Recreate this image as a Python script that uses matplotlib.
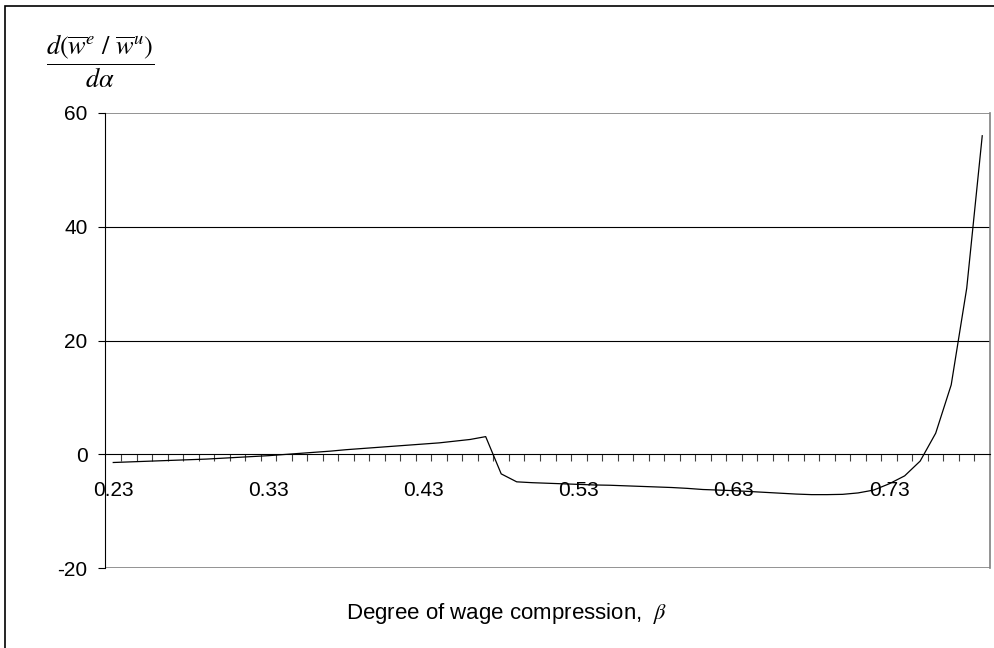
import matplotlib.pyplot as plt
from matplotlib.patches import Rectangle
from matplotlib.ticker import FixedLocator, NullFormatter

plt.rcParams['font.family'] = ['Liberation Sans', 'DejaVu Sans']
plt.rcParams['mathtext.fontset'] = 'stix'

# degree of wage compression (category axis)
beta = [0.23, 0.24, 0.25, 0.26, 0.27, 0.28, 0.29, 0.30, 0.31, 0.32,
        0.33, 0.34, 0.35, 0.36, 0.37, 0.38, 0.39, 0.40, 0.41, 0.42,
        0.43, 0.44, 0.45, 0.46, 0.47, 0.48, 0.49, 0.50, 0.51, 0.52,
        0.53, 0.54, 0.55, 0.56, 0.57, 0.58, 0.59, 0.60, 0.61, 0.62,
        0.63, 0.64, 0.65, 0.66, 0.67, 0.68, 0.69, 0.70, 0.71, 0.72,
        0.73, 0.74, 0.75, 0.76, 0.77, 0.78, 0.79]
# d(w_e / w_u) / d alpha
deriv = [-1.45, -1.35, -1.25, -1.15, -1.05, -0.95, -0.85, -0.7, -0.55, -0.4,
         -0.25, -0.05, 0.15, 0.35, 0.55, 0.8, 1.0, 1.2, 1.4, 1.6,
         1.8, 2.0, 2.3, 2.6, 3.1, -3.45, -4.85, -5.0, -5.1, -5.2,
         -5.3, -5.4, -5.45, -5.55, -5.65, -5.75, -5.85, -6.0, -6.2, -6.3,
         -6.4, -6.55, -6.7, -6.85, -7.0, -7.1, -7.1, -7.05, -6.8, -6.3,
         -5.2, -3.8, -1.2, 3.7, 12.2, 29.2, 56.0]
yticks = [-20, 0, 20, 40, 60]

fig = plt.figure(figsize=(9.95, 6.48), dpi=100)
ax = fig.add_axes([105.5 / 995, 80 / 648, 884.5 / 995, 455 / 648])

idx = list(range(len(beta)))
ax.plot(idx, deriv, color='black', lw=0.9)

ax.set_xlim(-0.5, len(beta) - 0.5)
ax.set_ylim(-20, 60)

# gridlines and plot-area border
for y in [20, 40]:
    ax.axhline(y, color='black', lw=0.8, zorder=0)
ax.axhline(60, color='#808080', lw=1.2, zorder=0)
ax.axhline(-20, color='#808080', lw=1.2, zorder=0)
ax.spines['top'].set_visible(False)
ax.spines['right'].set_color('#808080')
ax.spines['right'].set_linewidth(1.2)
ax.spines['left'].set_linewidth(0.8)
ax.spines['bottom'].set_position(('data', 0))
ax.spines['bottom'].set_linewidth(0.8)

# y axis
ax.set_yticks(yticks)
ax.set_yticklabels([str(v) for v in yticks])
ax.tick_params(axis='y', direction='out', length=5, width=0.8, pad=8, labelsize=15)

# x axis: labels every 10 categories, tick marks between categories
lab_pos = idx[::10]
ax.set_xticks(lab_pos)
ax.set_xticklabels(['%.2f' % beta[i] for i in lab_pos])
ax.tick_params(axis='x', which='major', length=0, pad=19, labelsize=15)
ax.xaxis.set_minor_locator(FixedLocator([i + 0.5 for i in idx[:-1]]))
ax.xaxis.set_minor_formatter(NullFormatter())
ax.tick_params(axis='x', which='minor', direction='out', length=5, width=0.8, color='#404040')

fig.text(507 / 995, 1 - 613 / 648, r'Degree of wage compression,  $\beta$',
         ha='center', va='center', fontsize=16)
fig.text(100 / 995, 1 - 61 / 648,
         r'$\dfrac{d\left(\overline{w}^{e}\ /\ \overline{w}^{u}\right)}{d\alpha}$',
         ha='center', va='center', fontsize=19)

# outer chart border
fig.patches.append(Rectangle((5 / 995, -0.05), 1.2, 1 - 6 / 648 + 0.05,
                             transform=fig.transFigure, fill=False,
                             edgecolor='black', lw=1.2))

fig.savefig('out.png', dpi=100)
